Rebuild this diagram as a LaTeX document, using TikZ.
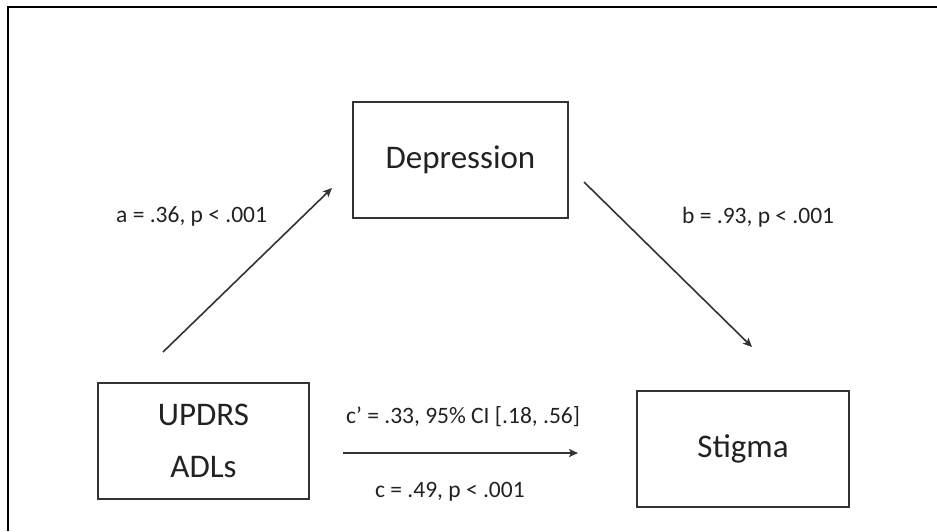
\documentclass[tikz,border=0pt]{standalone}
\usepackage{fontspec}
\setmainfont{Carlito}
\usetikzlibrary{arrows.meta}
\definecolor{ink}{HTML}{222222}
\definecolor{edge}{HTML}{333333}
\tikzset{
  box/.style={draw=edge, line width=2pt, inner sep=0pt, text=ink,
    font=\fontsize{33}{52}\selectfont, align=center},
  lbl/.style={inner sep=0pt, text=ink, font=\fontsize{23.5}{28}\selectfont},
  conn/.style={draw=edge, line width=1.6pt, -{Stealth[length=9pt,width=8pt,inset=2pt]}},
}
\begin{document}
\begin{tikzpicture}[x=1pt,y=-1pt]
\useasboundingbox (0,0) rectangle (937,531);
\fill[white] (0,0) rectangle (937,531);
\draw[line width=2.5pt, black] (937,7) -- (8,7) -- (8,531);

\node[box, minimum width=215pt, minimum height=116pt] (dep) at (460.5,160) {Depression};
\node[box, minimum width=211pt, minimum height=116pt] (upd) at (203.5,441) {UPDRS\\ADLs};
\node[box, minimum width=212pt, minimum height=116pt] (stig) at (743,449) {Stigma};

\coordinate (a1) at (163,352);
\coordinate (a2) at (332,188);
\coordinate (b1) at (584,182);
\coordinate (b2) at (752,347);
\coordinate (c1) at (343,453);
\coordinate (c2) at (578,453);

\draw[conn] (a1) -- (a2);
\draw[conn] (b1) -- (b2);
\draw[conn, line width=2.4pt] (c1) -- (c2);

\node[lbl, anchor=base west] (la) at (116,222) {a = .36, p < .001};
\node[lbl, anchor=base west] (lb) at (682,223) {b = .93, p < .001};
\node[lbl, anchor=base west] (lc1) at (346,423) {c’ = .33, 95\% CI [.18, .56]};
\node[lbl, anchor=base west] (lc) at (375,497) {c = .49, p < .001};
\end{tikzpicture}
\end{document}
